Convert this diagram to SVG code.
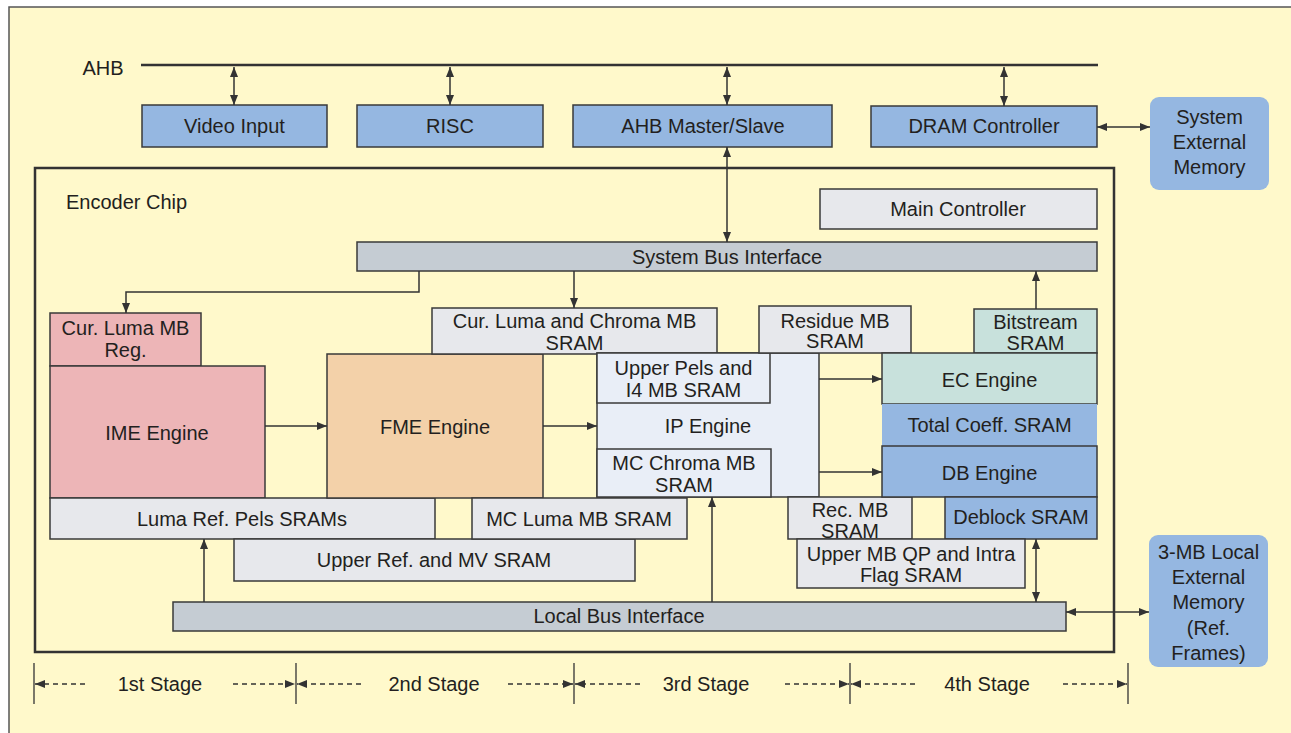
<svg xmlns="http://www.w3.org/2000/svg" width="1291" height="733" viewBox="0 0 1291 733">
  <style>
    text { font-family: "Liberation Sans", Arial, sans-serif; font-size: 20px; fill: #231f20; text-anchor: middle; }
    .box { stroke: #3a3a3a; stroke-width: 1.5; }
    .blue { fill: #95b7e1; }
    .gray { fill: #e7e8ec; }
    .bus { fill: #c5ccd3; }
    .pink { fill: #edb5b7; }
    .peach { fill: #f3d1a9; }
    .ip { fill: #e9eef7; }
    .mint { fill: #c8e1dc; }
    .ext { fill: #95b7e1; stroke: none; }
    .wire { stroke: #333; stroke-width: 1.5; fill: none; }
    .dash { stroke: #333; stroke-width: 1.3; stroke-dasharray: 5 4; fill: none; }
    .tick { stroke: #333; stroke-width: 1.3; }
  </style>
  <defs>
    <marker id="ah" viewBox="0 0 10 8" refX="10" refY="4" markerWidth="10" markerHeight="8" markerUnits="userSpaceOnUse" orient="auto-start-reverse">
      <path d="M0,0 L10,4 L0,8 Z" fill="#333"/>
    </marker>
  </defs>

  <!-- page background -->
  <rect x="9" y="7" width="1300" height="740" fill="#fff9cb" stroke="#555" stroke-width="1.5"/>

  <!-- AHB bus -->
  <g id="ahb">
    <text x="103" y="75">AHB</text>
    <line x1="141" y1="65" x2="1098" y2="65" stroke="#333" stroke-width="2.5"/>
  </g>

  <!-- SoC blocks on AHB -->
  <g id="video-input"><rect class="box blue" x="142" y="105" width="185" height="42"/><text x="234.5" y="133">Video Input</text></g>
  <g id="risc"><rect class="box blue" x="357" y="105" width="186" height="42"/><text x="450" y="133">RISC</text></g>
  <g id="ahb-master-slave"><rect class="box blue" x="573" y="105" width="259" height="42"/><text x="703" y="133">AHB Master/Slave</text></g>
  <g id="dram-controller"><rect class="box blue" x="871" y="106" width="226" height="41"/><text x="984" y="133">DRAM Controller</text></g>
  <g id="system-external-memory">
    <rect class="ext" x="1150" y="97" width="119" height="93" rx="9"/>
    <text x="1209.5" y="124">System</text>
    <text x="1209.5" y="149">External</text>
    <text x="1209.5" y="174">Memory</text>
  </g>

  <!-- encoder chip boundary -->
  <g id="encoder-chip">
    <rect x="35" y="168" width="1079" height="484" fill="none" stroke="#333" stroke-width="2.5"/>
    <text x="66" y="209" style="text-anchor:start">Encoder Chip</text>
  </g>

  <g id="main-controller"><rect class="box gray" x="820" y="189" width="277" height="40"/><text x="958" y="216">Main Controller</text></g>
  <g id="system-bus-interface"><rect class="box bus" x="357" y="242" width="740" height="29"/><text x="727" y="264">System Bus Interface</text></g>

  <!-- stage 1 -->
  <g id="cur-luma-mb-reg"><rect class="box pink" x="50" y="313" width="151" height="53"/><text x="125.5" y="335">Cur. Luma MB</text><text x="125.5" y="357">Reg.</text></g>
  <g id="ime-engine"><rect class="box pink" x="50" y="366" width="215" height="132"/><text x="157" y="440">IME Engine</text></g>
  <g id="luma-ref-pels"><rect class="box gray" x="50" y="498" width="385" height="41"/><text x="242" y="526">Luma Ref. Pels SRAMs</text></g>
  <g id="upper-ref-mv"><rect class="box gray" x="234" y="539" width="401" height="42"/><text x="434" y="567">Upper Ref. and MV SRAM</text></g>

  <!-- stage 2 -->
  <g id="fme-engine"><rect class="box peach" x="327" y="354" width="216" height="144"/><text x="435" y="434">FME Engine</text></g>
  <g id="cur-luma-chroma-sram"><rect class="box gray" x="432" y="308" width="285" height="46"/><text x="574.5" y="328">Cur. Luma and Chroma MB</text><text x="574.5" y="350">SRAM</text></g>
  <g id="mc-luma-sram"><rect class="box gray" x="472" y="498" width="215" height="41"/><text x="579" y="526">MC Luma MB SRAM</text></g>

  <!-- stage 3 -->
  <g id="ip-engine"><rect class="box ip" x="597" y="353" width="222" height="144"/><text x="708" y="433">IP Engine</text></g>
  <g id="upper-pels-i4"><rect class="box ip" x="597" y="353" width="173" height="50"/><text x="683.5" y="375">Upper Pels and</text><text x="683.5" y="397">I4 MB SRAM</text></g>
  <g id="mc-chroma-sram"><rect class="box ip" x="597" y="449" width="174" height="48"/><text x="684" y="470">MC Chroma MB</text><text x="684" y="492">SRAM</text></g>
  <g id="residue-sram"><rect class="box gray" x="759" y="306" width="152" height="47"/><text x="835" y="328">Residue MB</text><text x="835" y="348">SRAM</text></g>
  <g id="rec-sram"><rect class="box gray" x="788" y="497" width="124" height="42"/><text x="850" y="517">Rec. MB</text><text x="850" y="538">SRAM</text></g>

  <!-- stage 4 -->
  <g id="bitstream-sram"><rect class="box mint" x="974" y="309" width="123" height="44"/><text x="1035.5" y="329">Bitstream</text><text x="1035.5" y="350">SRAM</text></g>
  <g id="ec-engine"><rect class="box mint" x="882" y="353" width="215" height="51"/><text x="989.5" y="387">EC Engine</text></g>
  <g id="total-coeff-sram"><rect class="blue" x="882" y="404" width="215" height="42"/><text x="989.5" y="432">Total Coeff. SRAM</text></g>
  <g id="db-engine"><rect class="box blue" x="882" y="446" width="215" height="51"/><text x="989.5" y="480">DB Engine</text></g>
  <g id="deblock-sram"><rect class="box blue" x="945" y="497" width="152" height="42"/><text x="1021" y="524">Deblock SRAM</text></g>
  <g id="upper-mb-qp"><rect class="box gray" x="797" y="539" width="228" height="49"/><text x="911" y="561">Upper MB QP and Intra</text><text x="911" y="582">Flag SRAM</text></g>

  <g id="local-bus-interface"><rect class="box bus" x="173" y="602" width="893" height="29"/><text x="619" y="623">Local Bus Interface</text></g>
  <g id="local-external-memory">
    <rect class="ext" x="1149" y="535" width="119" height="132" rx="9"/>
    <text x="1208.5" y="559">3-MB Local</text>
    <text x="1208.5" y="584">External</text>
    <text x="1208.5" y="609">Memory</text>
    <text x="1208.5" y="635">(Ref.</text>
    <text x="1208.5" y="660">Frames)</text>
  </g>

  <!-- connectors -->
  <g id="connectors">
    <line class="wire" x1="234" y1="67" x2="234" y2="105" marker-start="url(#ah)" marker-end="url(#ah)"/>
    <line class="wire" x1="450" y1="67" x2="450" y2="105" marker-start="url(#ah)" marker-end="url(#ah)"/>
    <line class="wire" x1="727" y1="67" x2="727" y2="105" marker-start="url(#ah)" marker-end="url(#ah)"/>
    <line class="wire" x1="1004" y1="67" x2="1004" y2="106" marker-start="url(#ah)" marker-end="url(#ah)"/>
    <line class="wire" x1="727" y1="147" x2="727" y2="242" marker-start="url(#ah)" marker-end="url(#ah)"/>
    <line class="wire" x1="1097" y1="127" x2="1150" y2="127" marker-start="url(#ah)" marker-end="url(#ah)"/>
    <path class="wire" d="M419,271 V292 H126 V313" marker-end="url(#ah)"/>
    <line class="wire" x1="574" y1="271" x2="574" y2="308" marker-end="url(#ah)"/>
    <line class="wire" x1="1036" y1="309" x2="1036" y2="271" marker-end="url(#ah)"/>
    <line class="wire" x1="265" y1="426" x2="327" y2="426" marker-end="url(#ah)"/>
    <line class="wire" x1="543" y1="426" x2="597" y2="426" marker-end="url(#ah)"/>
    <line class="wire" x1="819" y1="379" x2="882" y2="379" marker-end="url(#ah)"/>
    <line class="wire" x1="819" y1="472" x2="882" y2="472" marker-end="url(#ah)"/>
    <line class="wire" x1="204" y1="602" x2="204" y2="539" marker-end="url(#ah)"/>
    <line class="wire" x1="712" y1="602" x2="712" y2="497" marker-end="url(#ah)"/>
    <line class="wire" x1="1036" y1="539" x2="1036" y2="602" marker-start="url(#ah)" marker-end="url(#ah)"/>
    <line class="wire" x1="1066" y1="612" x2="1149" y2="612" marker-start="url(#ah)" marker-end="url(#ah)"/>
  </g>

  <!-- pipeline stage scale -->
  <g id="stages">
    <line class="tick" x1="34" y1="663" x2="34" y2="704"/>
    <line class="tick" x1="296" y1="663" x2="296" y2="704"/>
    <line class="tick" x1="574" y1="663" x2="574" y2="704"/>
    <line class="tick" x1="850" y1="663" x2="850" y2="704"/>
    <line class="tick" x1="1128" y1="663" x2="1128" y2="704"/>

    <line class="dash" x1="85" y1="684" x2="35" y2="684" marker-end="url(#ah)"/>
    <text x="160" y="691">1st Stage</text>
    <line class="dash" x1="233" y1="684" x2="295" y2="684" marker-end="url(#ah)"/>

    <line class="dash" x1="361" y1="684" x2="297" y2="684" marker-end="url(#ah)"/>
    <text x="434" y="691">2nd Stage</text>
    <line class="dash" x1="508" y1="684" x2="573" y2="684" marker-end="url(#ah)"/>

    <line class="dash" x1="640" y1="684" x2="575" y2="684" marker-end="url(#ah)"/>
    <text x="706" y="691">3rd Stage</text>
    <line class="dash" x1="785" y1="684" x2="849" y2="684" marker-end="url(#ah)"/>

    <line class="dash" x1="915" y1="684" x2="851" y2="684" marker-end="url(#ah)"/>
    <text x="987" y="691">4th Stage</text>
    <line class="dash" x1="1063" y1="684" x2="1127" y2="684" marker-end="url(#ah)"/>
  </g>
</svg>
